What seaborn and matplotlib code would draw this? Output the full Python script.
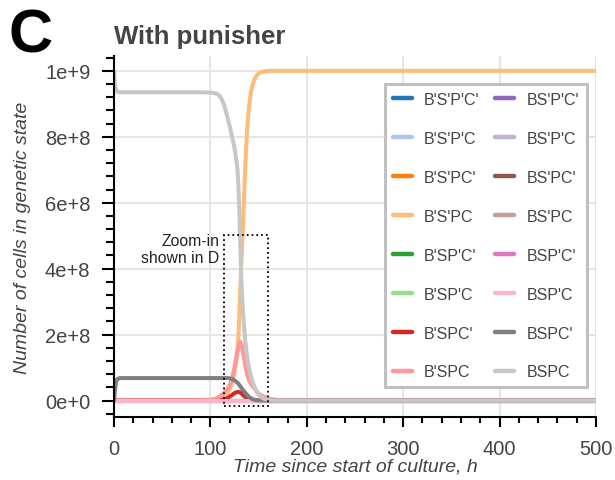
import numpy as np
import pandas as pd
import matplotlib
matplotlib.use("Agg")
import matplotlib.pyplot as plt
import matplotlib.patches as patches
import seaborn as sns


# ==========================================================
# DATA (cell counts in units of 1e9)
# ==========================================================

time_h = [0, 1, 2, 3, 4, 5, 6,
          8, 10, 20, 40, 60, 80, 90,
          100, 105, 108, 110,
          112, 114, 116, 118, 120, 122, 124, 126, 128,
          129, 130, 131, 132, 133, 134,
          136, 138, 140, 142, 144, 146, 148, 150, 152,
          155, 158, 162, 166, 170, 180, 200, 250, 300, 400, 500]

states = ["B'S'P'C'", "B'S'P'C", "B'S'PC'", "B'S'PC",
          "B'SP'C'", "B'SP'C", "B'SPC'", "B'SPC",
          "BS'P'C'", "BS'P'C", "BS'PC'", "BS'PC",
          "BSP'C'", "BSP'C", "BSPC'", "BSPC"]

zero = [0.0] * len(time_h)

bsp_c = [1.0, 0.96, 0.945, 0.938, 0.936, 0.935, 0.935,
         0.935, 0.935, 0.935, 0.935, 0.935, 0.935, 0.935,
         0.934, 0.932, 0.928, 0.922,
         0.912, 0.898, 0.878, 0.855, 0.832, 0.806, 0.78, 0.748, 0.705,
         0.655, 0.575, 0.47, 0.37, 0.31, 0.26,
         0.185, 0.135, 0.10, 0.074, 0.055, 0.039, 0.027, 0.018, 0.012,
         0.006, 0.003, 0.001, 0.0, 0.0, 0.0, 0.0, 0.0, 0.0, 0.0, 0.0]

b_s_pc = [0.0, 0.0, 0.0, 0.0, 0.0, 0.0, 0.0,
          0.0, 0.0, 0.0, 0.0, 0.0, 0.0, 0.0,
          0.0005, 0.001, 0.002, 0.004,
          0.007, 0.011, 0.017, 0.025, 0.034, 0.048, 0.072, 0.105, 0.155,
          0.19, 0.26, 0.34, 0.41, 0.48, 0.55,
          0.70, 0.82, 0.89, 0.935, 0.96, 0.976, 0.986, 0.992, 0.995,
          0.998, 0.999, 1.0, 1.0, 1.0, 1.0, 1.0, 1.0, 1.0, 1.0, 1.0]

b_spc = [0.0, 0.0, 0.0, 0.0, 0.0, 0.0, 0.0,
         0.0, 0.0, 0.0, 0.0, 0.0, 0.0, 0.0005,
         0.002, 0.005, 0.009, 0.013,
         0.018, 0.023, 0.029, 0.036, 0.046, 0.062, 0.086, 0.115, 0.148,
         0.163, 0.174, 0.178, 0.173, 0.16, 0.143,
         0.11, 0.08, 0.062, 0.05, 0.042, 0.035, 0.027, 0.021, 0.017,
         0.013, 0.009, 0.005, 0.003, 0.0015, 0.0003, 0.0, 0.0, 0.0, 0.0, 0.0]

bspc_ = [0.0, 0.03, 0.055, 0.063, 0.066, 0.067, 0.068,
         0.068, 0.068, 0.068, 0.068, 0.068, 0.068, 0.068,
         0.068, 0.068, 0.068, 0.068,
         0.068, 0.068, 0.068, 0.068, 0.067, 0.066, 0.063, 0.059, 0.054,
         0.051, 0.047, 0.043, 0.039, 0.035, 0.031,
         0.024, 0.017, 0.011, 0.007, 0.004, 0.002, 0.001, 0.0, 0.0,
         0.0, 0.0, 0.0, 0.0, 0.0, 0.0, 0.0, 0.0, 0.0, 0.0, 0.0]

b_spc_ = [0.0, 0.0, 0.0, 0.0, 0.0, 0.0, 0.0,
          0.0, 0.0, 0.0, 0.0, 0.0, 0.0, 0.0,
          0.0, 0.0, 0.0005, 0.001,
          0.002, 0.003, 0.005, 0.008, 0.012, 0.016, 0.02, 0.024, 0.026,
          0.026, 0.025, 0.024, 0.022, 0.019, 0.016,
          0.011, 0.007, 0.004, 0.0025, 0.0015, 0.001, 0.0005, 0.0, 0.0,
          0.0, 0.0, 0.0, 0.0, 0.0, 0.0, 0.0, 0.0, 0.0, 0.0, 0.0]

series = {s: zero for s in states}
series["B'S'PC"] = b_s_pc
series["B'SPC'"] = b_spc_
series["B'SPC"] = b_spc
series["BSPC'"] = bspc_
series["BSPC"] = bsp_c

# zoom window annotation (time, cells)
zoom_t = (114, 160)
zoom_n = (-0.016e9, 0.503e9)


# ==========================================================
# PLOT
# ==========================================================

rows = []
for s in states:
    for t, v in zip(time_h, series[s]):
        rows.append({"time": t, "cells": v * 1e9, "state": s})
df = pd.DataFrame(rows)

sns.set_style("whitegrid")
plt.rcParams['font.family'] = ['Liberation Sans', 'DejaVu Sans']

TEXT = "#444444"

fig = plt.figure(figsize=(6.15, 4.81), dpi=100)
ax = fig.add_axes([0.1854, 0.131, 0.7837, 0.7505])

sns.lineplot(data=df, x="time", y="cells", hue="state", hue_order=states,
             palette="tab20", estimator=None, lw=2.9, ax=ax)

ax.set_xlim(0, 500)
ax.set_ylim(-0.05e9, 1.045e9)
ax.set_xticks([0, 100, 200, 300, 400, 500])
ax.set_xticks(np.arange(0, 501, 20), minor=True)
ax.set_yticks([0, 2e8, 4e8, 6e8, 8e8, 1e9])
ax.set_yticklabels(["0e+0", "2e+8", "4e+8", "6e+8", "8e+8", "1e+9"])
ax.set_yticks(np.arange(-0.04e9, 1.05e9, 0.04e9), minor=True)

ax.grid(True, which="major", color="#e6e6e6", lw=1.5)
ax.grid(False, which="minor")
for side in ["top", "right"]:
    ax.spines[side].set_visible(False)
for side in ["left", "bottom"]:
    ax.spines[side].set_color("black")
    ax.spines[side].set_linewidth(1.5)

ax.tick_params(axis="x", which="major", direction="out", length=7.2,
               width=1.5, color="black", labelsize=14.5, labelcolor=TEXT,
               pad=8.5, bottom=True)
ax.tick_params(axis="x", which="minor", direction="out", length=4.3,
               width=1.5, color="black", bottom=True)
ax.tick_params(axis="y", which="major", direction="out", length=9,
               width=1.5, color="black", labelsize=14.5, labelcolor=TEXT,
               pad=8, left=True)
ax.tick_params(axis="y", which="minor", direction="out", length=5.5,
               width=1.5, color="black", left=True)

ax.set_xlabel("Time since start of culture, h", fontsize=14, style="italic",
              color=TEXT, labelpad=0)
ax.set_ylabel("Number of cells in genetic state", fontsize=14, style="italic",
              color=TEXT, labelpad=10)
ax.set_title("With punisher", loc="left", fontsize=18.5, fontweight="bold",
             color=TEXT, pad=9)
fig.text(0.014, 0.89, "C", fontsize=44, fontweight="bold", color="black")

# zoom-in box
rect = patches.Rectangle((zoom_t[0], zoom_n[0]), zoom_t[1] - zoom_t[0],
                         zoom_n[1] - zoom_n[0], fill=False, ls=":",
                         lw=1.3, ec="black", zorder=5)
ax.add_patch(rect)
ax.text(zoom_t[0] - 5, 0.46e9, "Zoom-in\nshown in D", ha="right",
        va="center", multialignment="right", fontsize=11.3, color="#222222")

leg = ax.legend(ncol=2, loc="upper right", bbox_to_anchor=(0.981, 0.923),
                borderaxespad=0, fontsize=11.5, frameon=True, fancybox=False,
                edgecolor="#c0c0c0", labelspacing=1.5, handlelength=1.2,
                handletextpad=0.75, columnspacing=1.0, borderpad=0.5)
leg.get_frame().set_linewidth(2.2)
leg.get_frame().set_alpha(1)
for line in leg.get_lines():
    line.set_linewidth(3.2)
for txt in leg.get_texts():
    txt.set_color(TEXT)

fig.savefig("out.png", dpi=100)
